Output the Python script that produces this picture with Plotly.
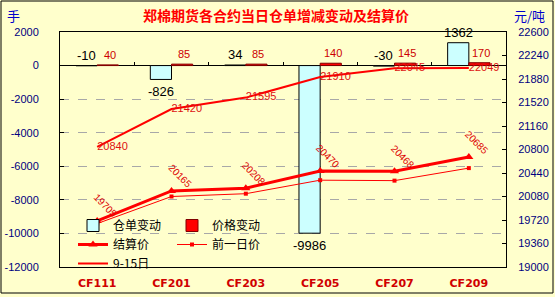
import plotly.graph_objects as go

# ---------------- data ----------------
categories = ["CF111", "CF201", "CF203", "CF205", "CF207", "CF209"]
warrant_change = [-10, -826, 34, -9986, -30, 1362]          # 仓单变动 (手)
price_change = [40, 85, 85, 140, 145, 170]                  # 价格变动
settle_price = [19705, 20165, 20208, 20470, 20468, 20685]   # 结算价
prev_price = [19665, 20080, 20123, 20330, 20323, 20515]     # 前一日价
sep15_price = [20840, 21420, 21595, 21910, 22045, 22049]    # 9-15日

left_ticks = [2000, 0, -2000, -4000, -6000, -8000, -10000, -12000]
right_ticks = [22600, 22240, 21880, 21520, 21160, 20800, 20440, 20080, 19720, 19360, 19000]

# ---------------- layout constants ----------------
W, H = 555, 297
ML, MR, MT, MB = 60, 49, 32, 30
PW, PH = W - ML - MR, H - MT - MB
BG = "#FFFFCC"
RED = "#FF0000"
NAVY = "#000080"
BARGAP = 0.43
cat_w = PW / len(categories)
bar_w = cat_w * (1 - BARGAP) / 2

yl_min, yl_max = min(left_ticks), max(left_ticks)
yr_min, yr_max = min(right_ticks), max(right_ticks)


def px_x(px):
    return (px - ML) / PW


def px_y(py):
    return (H - MB - py) / PH


fig = go.Figure()

fig.add_trace(go.Bar(
    x=categories, y=warrant_change, name="仓单变动",
    marker=dict(color="#CCFFFF", line=dict(color="black", width=1)),
    legend="legend", hoverinfo="skip"))
fig.add_trace(go.Bar(
    x=categories, y=price_change, name="价格变动",
    marker=dict(color=RED, line=dict(color="#800000", width=1)),
    legend="legend2", hoverinfo="skip"))

fig.add_trace(go.Scatter(
    x=categories, y=settle_price, name="结算价", yaxis="y2",
    mode="lines+markers", line=dict(color=RED, width=3),
    marker=dict(symbol="triangle-up", size=8, color=RED),
    legend="legend", hoverinfo="skip"))
fig.add_trace(go.Scatter(
    x=categories, y=prev_price, name="前一日价", yaxis="y2",
    mode="lines+markers", line=dict(color=RED, width=1),
    marker=dict(symbol="square", size=4, color=RED),
    legend="legend2", hoverinfo="skip"))
fig.add_trace(go.Scatter(
    x=categories, y=sep15_price, name="9-15日", yaxis="y2",
    mode="lines+text", line=dict(color=RED, width=2),
    text=[str(v) for v in sep15_price], textposition="middle right",
    textfont=dict(family="Liberation Sans", size=11, color="#DD1111"),
    cliponaxis=False, legend="legend", hoverinfo="skip"))

# helper trace for the category ticks on the zero line
fig.add_trace(go.Scatter(
    x=categories, y=[0] * len(categories), xaxis="x2", yaxis="y",
    mode="markers", marker=dict(opacity=0), showlegend=False, hoverinfo="skip"))

annotations = []
for c, v in zip(categories, warrant_change):
    below = v < -500
    annotations.append(dict(
        x=c, y=v if below else max(v, 0), xref="x", yref="y",
        text=str(v), showarrow=False, xshift=-bar_w / 2,
        yanchor="top" if below else "bottom", yshift=-3 if below else 1,
        font=dict(family="Liberation Sans", size=13, color="black")))
for c, v in zip(categories, price_change):
    annotations.append(dict(
        x=c, y=v, xref="x", yref="y", text=str(v), showarrow=False,
        xshift=bar_w / 2 + 2, yanchor="bottom", yshift=2,
        font=dict(family="Liberation Sans", size=11, color="#CC0000")))
for c, v in zip(categories, settle_price):
    annotations.append(dict(
        x=c, y=v, xref="x", yref="y2", text=str(v), showarrow=False,
        textangle=45, xshift=8, yshift=15, xanchor="center", yanchor="middle",
        font=dict(family="Liberation Sans", size=10, color="#DD0000")))

annotations.append(dict(x=px_x(13), y=px_y(16), xref="paper", yref="paper",
                        xanchor="center", yanchor="middle",
                        text="手", showarrow=False,
                        font=dict(family="Noto Sans CJK SC", size=13, color="#0000CC")))
annotations.append(dict(x=px_x(529), y=px_y(16), xref="paper", yref="paper",
                        xanchor="center", yanchor="middle",
                        text="元/吨", showarrow=False,
                        font=dict(family="Noto Sans CJK SC", size=13, color="#0000CC")))

fig.update_layout(
    width=W, height=H,
    margin=dict(l=ML, r=MR, t=MT, b=MB, autoexpand=False),
    paper_bgcolor=BG, plot_bgcolor=BG,
    barmode="group", bargap=BARGAP, bargroupgap=0,
    title=dict(text="<b>郑棉期货各合约当日仓单增减变动及结算价</b>",
               x=276 / W, y=1 - 16 / H, xanchor="center", yanchor="middle",
               font=dict(family="Noto Sans CJK SC", size=14, color=RED)),
    xaxis=dict(type="category", showline=True, linecolor="black", linewidth=1, mirror=True,
               ticks="", showgrid=False, ticklabelstandoff=6, automargin=False,
               tickfont=dict(family="DejaVu Sans", size=11, color="#D00000", weight="bold")),
    xaxis2=dict(type="category", overlaying="x", matches="x", anchor="free",
                position=(0 - yl_min) / (yl_max - yl_min), side="bottom",
                ticks="inside", ticklen=4, tickcolor="black", tickson="boundaries",
                showticklabels=False, showline=False, showgrid=False, automargin=False),
    yaxis=dict(range=[yl_min, yl_max], tickvals=left_ticks, ticktext=[str(v) for v in left_ticks],
               showline=True, linecolor="black", linewidth=1, ticks="inside", ticklen=4,
               tickcolor="black", ticklabelstandoff=18, automargin=False,
               showgrid=True, gridcolor="#A8A8A8", griddash="dash", gridwidth=1,
               zeroline=True, zerolinecolor="black", zerolinewidth=1,
               tickfont=dict(family="Liberation Sans", size=11, color=NAVY)),
    yaxis2=dict(range=[yr_min, yr_max], tickvals=right_ticks, ticktext=[str(v) for v in right_ticks],
                overlaying="y", side="right", showline=True, linecolor="black", linewidth=1,
                ticks="inside", ticklen=4, tickcolor="black", ticklabelstandoff=9, automargin=False,
                showgrid=False, zeroline=False,
                tickfont=dict(family="Liberation Sans", size=11, color=NAVY)),
    legend=dict(x=px_x(73), y=px_y(211), xanchor="left", yanchor="top",
                bgcolor="rgba(0,0,0,0)", font=dict(family="Noto Sans CJK SC", size=12, color="black"),
                traceorder="normal"),
    legend2=dict(x=px_x(172), y=px_y(211), xanchor="left", yanchor="top",
                 bgcolor="rgba(0,0,0,0)", font=dict(family="Noto Sans CJK SC", size=12, color="black"),
                 traceorder="normal"),
    annotations=annotations,
    shapes=[dict(type="rect", xref="paper", yref="paper",
                 x0=px_x(1), x1=px_x(553), y0=px_y(293), y1=px_y(1),
                 line=dict(color="black", width=1), fillcolor="rgba(0,0,0,0)", layer="below")],
    showlegend=True,
)

fig.write_html("out.html")
